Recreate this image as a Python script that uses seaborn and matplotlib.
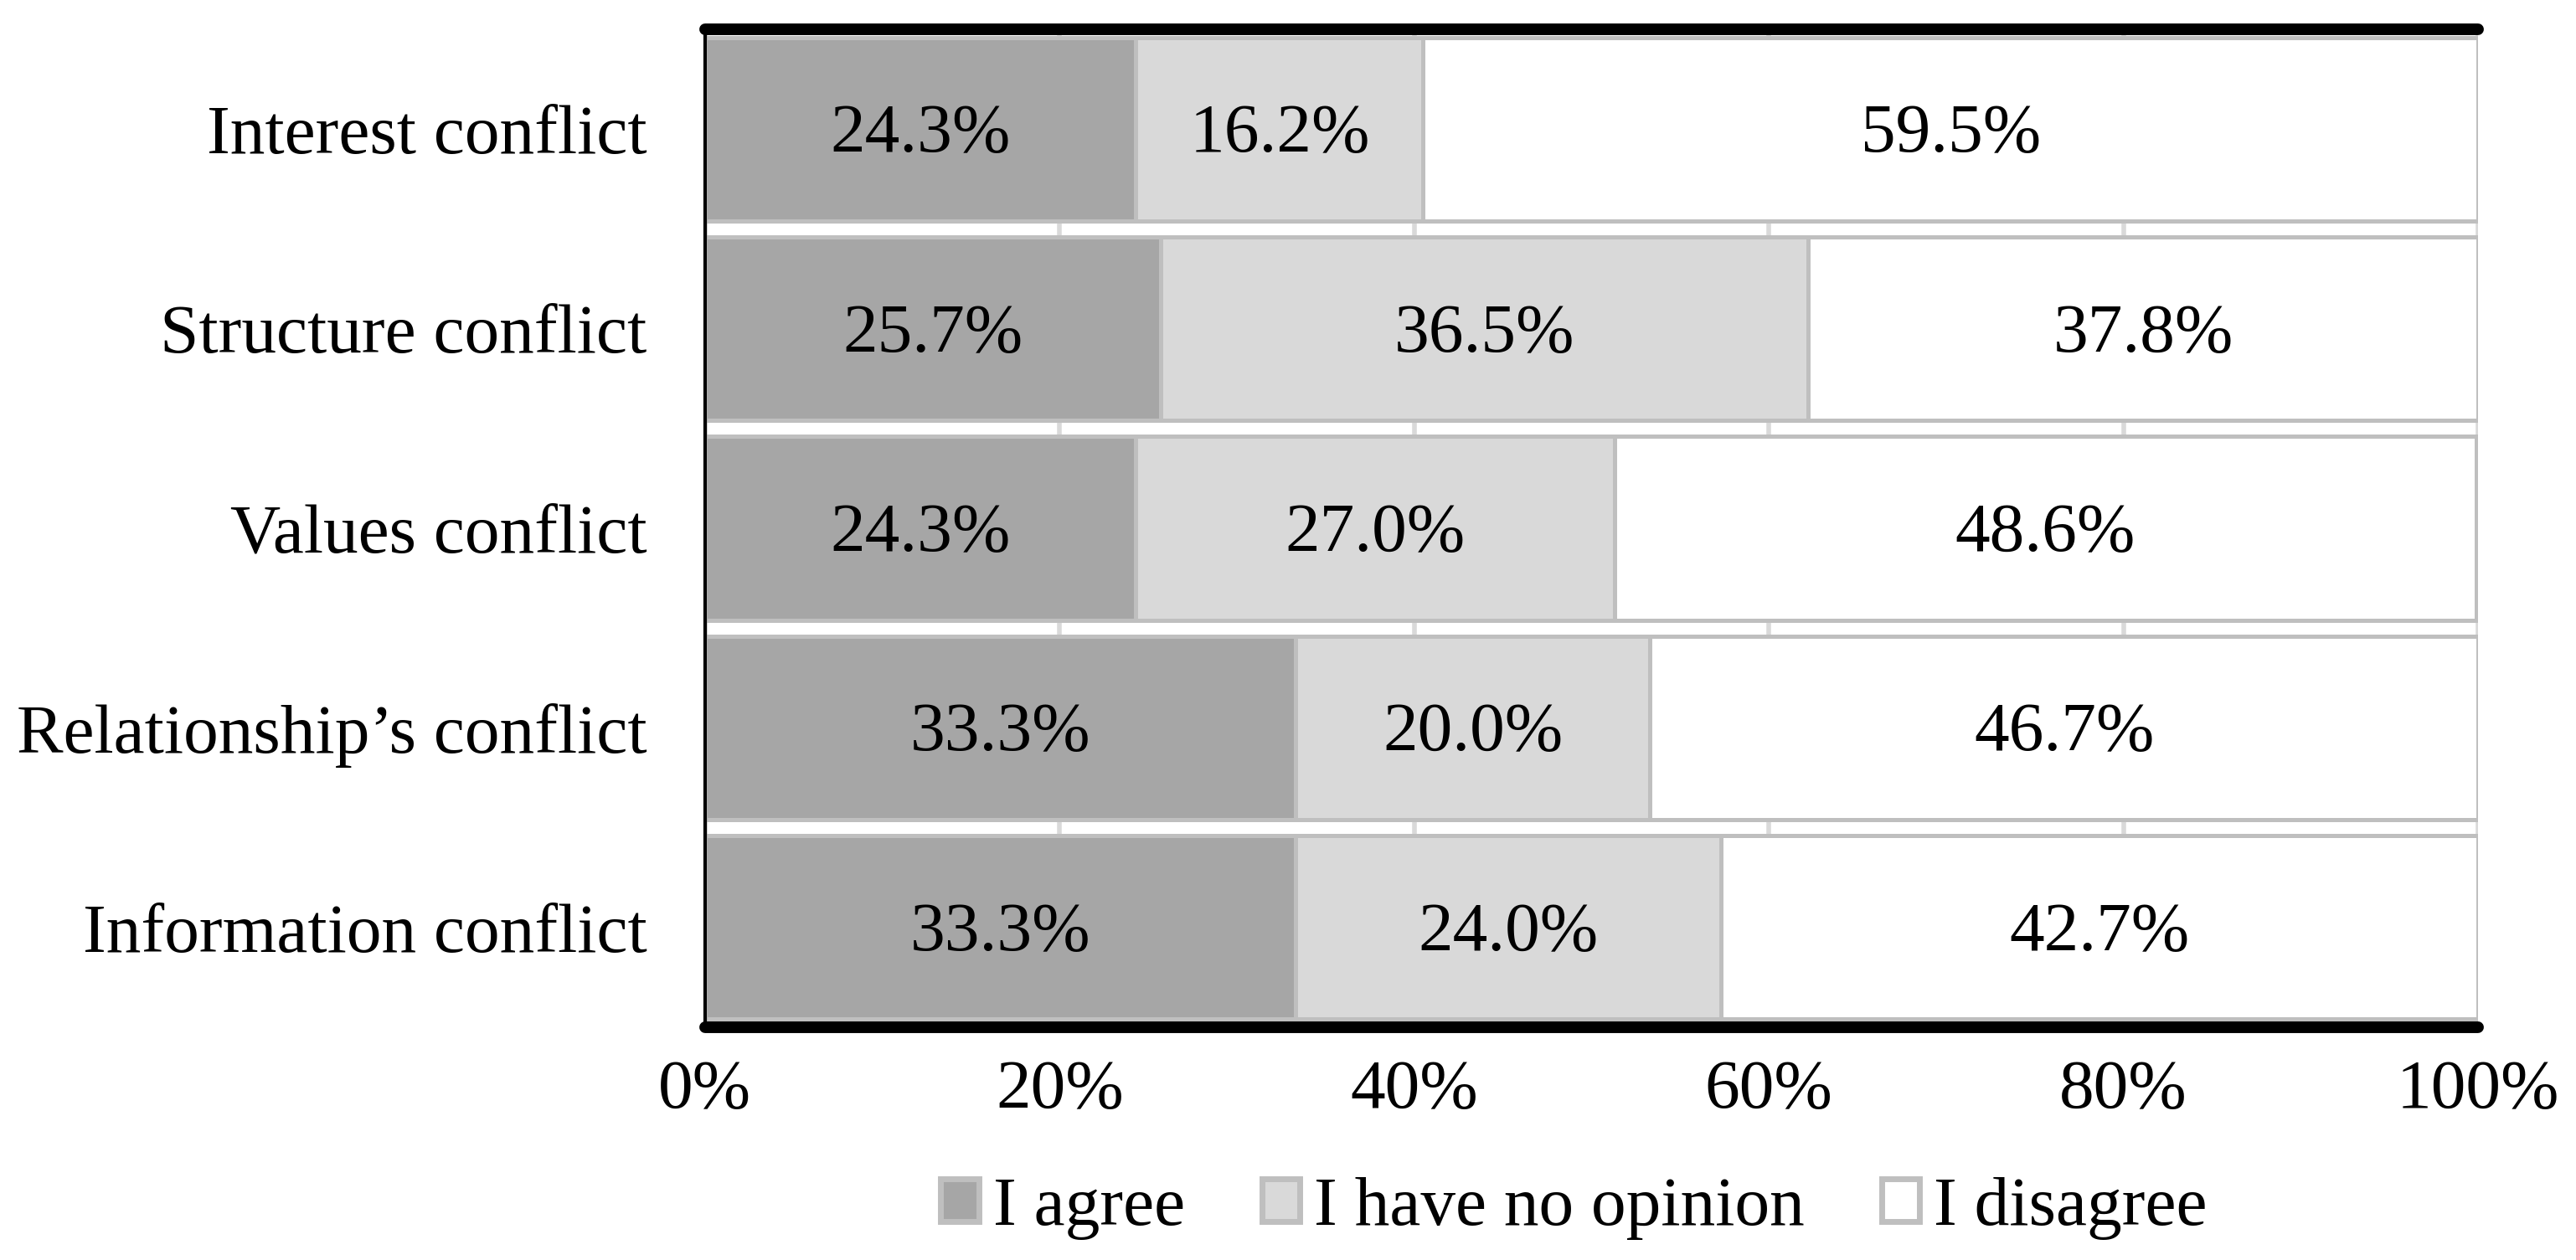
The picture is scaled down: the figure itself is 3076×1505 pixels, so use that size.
import numpy as np
import pandas as pd
import matplotlib.pyplot as plt
from matplotlib.patches import Patch
import seaborn as sns

categories = [
    "Interest conflict",
    "Structure conflict",
    "Values conflict",
    "Relationship\u2019s conflict",
    "Information conflict",
]
agree = [24.3, 25.7, 24.3, 33.3, 33.3]
no_opinion = [16.2, 36.5, 27.0, 20.0, 24.0]
disagree = [59.5, 37.8, 48.6, 46.7, 42.7]
series_names = ["I agree", "I have no opinion", "I disagree"]
colors = ["#a6a6a6", "#d9d9d9", "#ffffff"]
edge = "#bfbfbf"

sns.set_style("white")
plt.rcParams["font.family"] = ["Liberation Serif", "DejaVu Serif"]
plt.rcParams["text.color"] = "black"
plt.rcParams["xtick.color"] = "black"
plt.rcParams["ytick.color"] = "black"

df = pd.DataFrame(
    {"cat": categories, "agree": agree, "noop": no_opinion, "dis": disagree}
)
# cumulative ends for stacked bars (drawn back to front)
df["c1"] = df["agree"]
df["c2"] = df["agree"] + df["noop"]
df["c3"] = df["c2"] + df["dis"]

fs = 60
fig = plt.figure(figsize=(30.76, 15.05), dpi=100)
ax = fig.add_axes([0.2737, 0.1847, 0.962 - 0.2737, 0.9767 - 0.1847])

for col, c in zip(["c3", "c2", "c1"], colors[::-1]):
    sns.barplot(
        data=df, x=col, y="cat", orient="h", color=c, saturation=1,
        edgecolor=edge, linewidth=3.6, width=0.92, ax=ax, zorder=2,
    )

# value labels centred in each segment
for i, row in df.iterrows():
    starts = [0, row["c1"], row["c2"]]
    for s, v in zip(starts, [row["agree"], row["noop"], row["dis"]]):
        ax.text(s + v / 2, i + 0.03, f"{v:.1f}%", ha="center", va="center",
                fontsize=fs, color="black", zorder=5)

ax.set_xlim(0, 100)
ax.set_ylim(4.5, -0.5)
ax.set_xticks(np.arange(0, 101, 20))
ax.set_xticklabels([f"{t}%" for t in range(0, 101, 20)])
ax.set_xlabel("")
ax.set_ylabel("")
ax.tick_params(axis="both", length=0, labelsize=fs, labelcolor="black")
ax.tick_params(axis="x", pad=28)
ax.tick_params(axis="y", pad=50)

ax.set_axisbelow(True)
ax.xaxis.grid(True, color="#d9d9d9", linewidth=4)

for side in ["top", "bottom"]:
    ax.spines[side].set_linewidth(10)
    ax.spines[side].set_color("black")
    ax.spines[side].set_capstyle("round")
ax.spines["left"].set_linewidth(3)
ax.spines["left"].set_color("black")
ax.spines["right"].set_visible(False)

handles = [Patch(facecolor=c, edgecolor=edge, linewidth=5) for c in colors]
fig.legend(
    handles, series_names, loc="center", bbox_to_anchor=(0.611, 0.041),
    ncol=3, frameon=False, fontsize=fs, handlelength=0.55, handleheight=0.55,
    handletextpad=0.2, columnspacing=1.1,
)

fig.savefig("out.png", dpi=100)
